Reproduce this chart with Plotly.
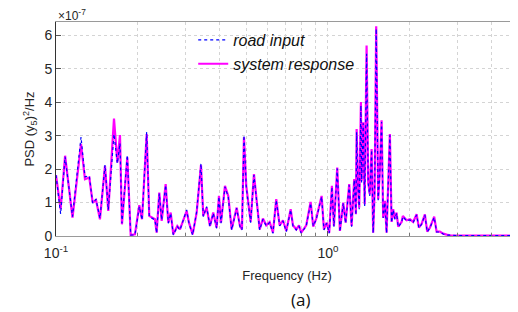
import plotly.graph_objects as go

# Frequency (Hz) and PSD values (x 1e-7 (y5)^2/Hz)
freq = [0.100, 0.104, 0.108, 0.115, 0.1236, 0.1278, 0.1326, 0.1364, 0.1403, 0.1451,
        0.1514, 0.1557, 0.1634, 0.1681, 0.1719, 0.1748, 0.1829, 0.1882, 0.1951, 0.2025,
        0.2072, 0.2155, 0.2203, 0.2312, 0.2345, 0.2398, 0.2447, 0.2531, 0.2588, 0.2641,
        0.2700, 0.2793, 0.2857, 0.2938, 0.3024, 0.3083, 0.3181, 0.3291, 0.3413, 0.3480,
        0.3581, 0.3683, 0.3787, 0.3898, 0.3975, 0.4043, 0.4182, 0.4300, 0.4426, 0.4617,
        0.4748, 0.4829, 0.4912, 0.5008, 0.5081, 0.5198, 0.5345, 0.5451, 0.5610, 0.5768,
        0.5932, 0.6105, 0.6278, 0.6456, 0.6645, 0.6834, 0.7028, 0.7295, 0.7437, 0.7648,
        0.7825, 0.7978, 0.8323, 0.8638, 0.8831, 0.9058, 0.9481, 0.9667, 0.9890, 1.0111,
        1.0344, 1.0522, 1.0820, 1.1070, 1.1384, 1.1617, 1.1976, 1.2221, 1.2494, 1.2674,
        1.2750, 1.2900, 1.3034, 1.3222, 1.3300, 1.3483, 1.3650, 1.3874, 1.4064, 1.4250,
        1.4475, 1.4670, 1.4850, 1.5050, 1.5305, 1.5500, 1.5751, 1.5966, 1.6200, 1.6432,
        1.6897, 1.7144, 1.7378, 1.7628, 1.7885, 1.8130, 1.8660, 1.8862, 1.9465, 2.0019,
        2.0586, 2.1186, 2.1605, 2.2103, 2.2729, 2.3179, 2.3714, 2.4593, 2.5097, 2.5811,
        2.6541, 2.7316, 2.8087, 3.0573, 3.6224, 4.2901, 5.0]

road_input = [1.82, 0.66, 2.37, 0.58, 2.96, 1.77, 1.80, 0.98, 1.10, 0.53,
              2.12, 0.78, 3.05, 2.17, 2.77, 0.38, 2.42, 0.03, 0.03, 0.88,
              0.48, 3.11, 0.58, 0.48, 0.09, 1.27, 0.48, 1.52, 0.38, 0.68,
              0.03, 0.28, 0.18, 0.48, 0.78, 0.38, 0.03, 0.73, 2.17, 0.58,
              0.88, 0.28, 0.68, 0.23, 1.17, 0.38, 1.47, 1.17, 0.18, 0.83,
              0.28, 0.18, 3.01, 1.47, 0.98, 0.40, 1.82, 1.17, 0.18, 0.50,
              0.30, 0.40, 0.08, 1.07, 0.30, 0.45, 0.13, 0.78, 0.30, 0.18,
              0.30, 0.08, 0.30, 0.98, 0.30, 0.50, 1.17, 0.18, 0.38, 0.08,
              1.47, 0.28, 2.02, 0.13, 0.98, 0.38, 1.52, 0.28, 1.67, 0.63,
              3.10, 1.50, 0.80, 3.90, 1.60, 3.37, 0.90, 5.45, 1.58, 1.20,
              2.57, 0.09, 1.30, 6.20, 1.07, 1.80, 3.41, 0.54, 1.00, 0.09,
              3.01, 0.40, 0.78, 0.50, 0.68, 0.27, 0.40, 0.58, 0.45, 0.48,
              0.40, 0.63, 0.24, 0.35, 0.63, 0.12, 0.24, 0.56, 0.12, 0.12,
              0.06, 0.03, 0.02, 0.01, 0.01, 0.01, 0.01]

system_response = [1.82, 0.80, 2.40, 0.55, 2.75, 1.70, 1.75, 1.00, 1.08, 0.50,
                   2.10, 0.75, 3.51, 2.20, 3.02, 0.35, 2.35, 0.03, 0.05, 0.92,
                   0.50, 3.05, 0.60, 0.50, 0.10, 1.30, 0.45, 1.55, 0.40, 0.70,
                   0.05, 0.30, 0.20, 0.45, 0.75, 0.40, 0.05, 0.70, 2.12, 0.60,
                   0.85, 0.30, 0.70, 0.25, 1.20, 0.40, 1.50, 1.20, 0.20, 0.85,
                   0.30, 0.20, 2.95, 1.50, 1.00, 0.42, 1.85, 1.20, 0.20, 0.52,
                   0.32, 0.42, 0.10, 1.10, 0.32, 0.47, 0.15, 0.80, 0.32, 0.20,
                   0.32, 0.10, 0.32, 1.02, 0.28, 0.52, 1.20, 0.20, 0.40, 0.10,
                   1.50, 0.30, 2.05, 0.15, 1.00, 0.40, 1.55, 0.30, 1.70, 0.65,
                   3.20, 1.55, 0.85, 4.01, 1.65, 3.40, 0.95, 5.70, 1.60, 1.25,
                   2.60, 0.10, 1.35, 6.27, 1.10, 1.85, 3.46, 0.55, 1.05, 0.10,
                   3.05, 0.42, 0.80, 0.52, 0.70, 0.28, 0.42, 0.60, 0.47, 0.50,
                   0.42, 0.65, 0.25, 0.36, 0.65, 0.13, 0.25, 0.58, 0.13, 0.13,
                   0.07, 0.04, 0.02, 0.01, 0.01, 0.01, 0.01]

x_major = [0.1, 1]
x_major_text = ["10<sup>-1</sup>", "10<sup>0</sup>"]
x_minor = [0.2, 0.3, 0.4, 0.5, 0.6, 0.7, 0.8, 0.9, 2, 3, 4]
y_ticks = [0, 1, 2, 3, 4, 5, 6]

font_axes = "Liberation Sans, Arial, sans-serif"
tick_color = "#262626"

fig = go.Figure()
fig.add_trace(go.Scatter(
    x=freq, y=system_response, mode="lines", name="<i>system response</i>",
    line=dict(color="#FF00FF", width=2.2), legendrank=2))
fig.add_trace(go.Scatter(
    x=freq, y=road_input, mode="lines", name="<i>road input</i>",
    line=dict(color="#0000FF", width=1.2, dash="dot"), legendrank=1))

grid_col = "#d4d4d4"
fig.update_xaxes(
    type="log", range=[-1, 0.699], tickvals=x_major, ticktext=x_major_text,
    ticks="inside", ticklen=5, tickcolor="#555", showline=True, linecolor="#9a9a9a",
    mirror=True, showgrid=True, gridcolor=grid_col, griddash="dot", gridwidth=1,
    minor=dict(tickvals=x_minor, ticks="inside", ticklen=3, tickcolor="#777",
               showgrid=True, gridcolor=grid_col, griddash="dot"),
    tickfont=dict(family=font_axes, size=14, color=tick_color),
    ticklabelstandoff=4,
    title=dict(text="Frequency (Hz)", font=dict(family=font_axes, size=13, color=tick_color),
               standoff=11),
    automargin=False, zeroline=False)
fig.update_yaxes(
    range=[0, 6.4], tickvals=y_ticks, ticks="inside", ticklen=5, tickcolor="#555",
    showline=True, linecolor="#333", mirror=True,
    showgrid=True, gridcolor=grid_col, griddash="dot", gridwidth=1,
    tickfont=dict(family=font_axes, size=14, color=tick_color),
    title=dict(text="PSD (y<sub>5</sub>)<sup>2</sup>/Hz",
               font=dict(family=font_axes, size=13, color=tick_color), standoff=6),
    automargin=False, zeroline=False)

fig.add_annotation(text="\u00d710<sup>-7</sup>", xref="paper", yref="paper",
                   x=0.0, y=1.0, xanchor="left", yanchor="bottom", yshift=-3,
                   showarrow=False, font=dict(family=font_axes, size=12, color=tick_color))
fig.add_annotation(text="(a)", xref="paper", yref="paper", x=0.529, y=-0.235,
                   xanchor="center", yanchor="top", showarrow=False,
                   font=dict(family="Open Sans, sans-serif", size=17, color="#111"))

# page has an 8px body margin; margins below compensate so the plot area lands
# where the reference has it
fig.update_layout(
    width=518, height=312,
    margin=dict(l=48, r=8, t=14, b=84),
    plot_bgcolor="white", paper_bgcolor="white",
    showlegend=True,
    legend=dict(x=0.297, y=0.995, xanchor="left", yanchor="top",
                bgcolor="rgba(255,255,255,0)", borderwidth=0,
                font=dict(family=font_axes, size=16, color="#111"),
                tracegroupgap=0, itemwidth=30),
)

fig.write_html("out.html")
